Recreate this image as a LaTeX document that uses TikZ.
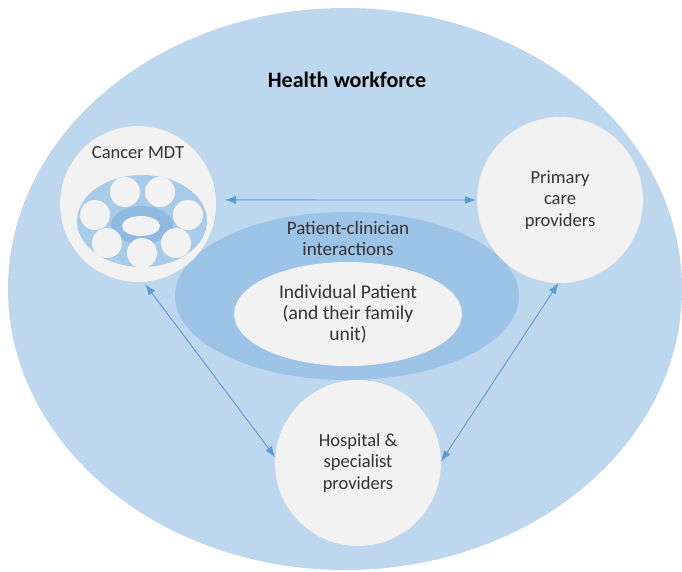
\documentclass[tikz,border=0pt]{standalone}
\usepackage{fontspec}
\setmainfont{Carlito}
\usepackage{xcolor}
\usepackage{tikz}
\usetikzlibrary{shapes.geometric,arrows.meta,positioning,calc}

\definecolor{wfblue}{HTML}{BDD7EE}
\definecolor{pcblue}{HTML}{9DC3E6}
\definecolor{mdtring}{HTML}{A9CBEA}
\definecolor{mdtcore}{HTML}{8FB9E1}
\definecolor{paper}{HTML}{F2F2F2}
\definecolor{linkblue}{HTML}{5B9BD5}
\definecolor{txtgray}{HTML}{333333}

\begin{document}
\begin{tikzpicture}[x=1pt,y=-1pt,
	txtnode/.style={text=txtgray,font=\fontsize{18.5}{21.5}\selectfont,align=center},
	provider/.style={circle,fill=paper,inner sep=0pt,outer sep=0pt,minimum size=166pt,txtnode},
	link/.style={{Latex[length=11pt,width=8pt]}-{Latex[length=11pt,width=8pt]},linkblue,line width=0.9pt}]
	\useasboundingbox (0,0) rectangle (682,572);
		\fill[wfblue] (345,289) ellipse [x radius=337pt,y radius=281pt];
		\node[font=\bfseries\fontsize{22}{24}\selectfont] (workforce) at (347,80) {Health workforce};

	% patient-clinician interactions
		\fill[pcblue] (347,296) ellipse [x radius=172pt,y radius=84pt];
		\node[txtnode,font=\fontsize{19}{21}\selectfont] (pci) at (348,238) {Patient-clinician\\interactions};
		\node[ellipse,fill=paper,inner sep=0pt,minimum width=228pt,minimum height=104pt,txtnode,font=\fontsize{19.5}{21}\selectfont] (patient) at (348,314) {Individual Patient\\(and their family\\unit)};

	% cancer MDT
		\node[provider,minimum size=156pt] (mdt) at (138,204) {};
		\node[txtnode] (mdtlabel) at (138,153) {Cancer MDT};
		\fill[mdtring] (142,221) ellipse [x radius=65pt,y radius=46pt];
		\fill[mdtcore] (142,225) ellipse [x radius=31pt,y radius=19pt];
		\fill[paper] (141,226) ellipse [x radius=19pt,y radius=10pt];
		\foreach \px/\py in {125/192,160/192,95/215,188/215,107/243,142/253,176/243}
			\fill[paper] (\px,\py) circle (15pt);

	% other providers
		\node[provider] (primary) at (560,200) {Primary\\care\\providers};
		\node[provider] (hospital) at (358,463) {Hospital \&\\specialist\\providers};

		\draw[link,shorten <=9pt,shorten >=1pt] (mdt.3) -- (primary.west);
		\draw[link,shorten <=3pt] (mdt.-86) -- (hospital.176);
		\draw[link] (primary.-91) -- (hospital.1);
	\end{tikzpicture}
\end{document}
